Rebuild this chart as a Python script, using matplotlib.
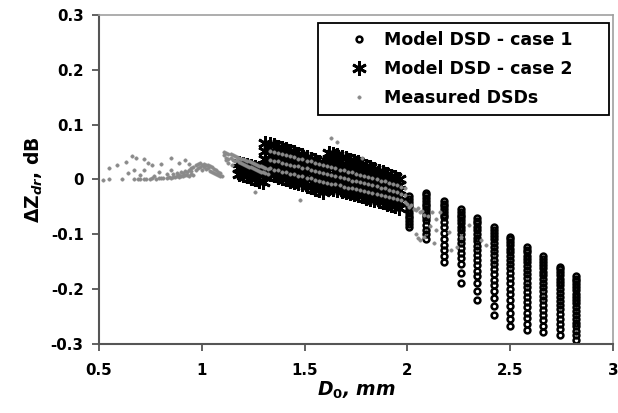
import matplotlib
matplotlib.use("Agg")
import matplotlib.pyplot as plt

# ---- data ----
x_ticks = [0.5, 1.0, 1.5, 2.0, 2.5, 3.0]
x_tick_labels = ["0.5", "1", "1.5", "2", "2.5", "3"]
y_ticks = [0.3, 0.2, 0.1, 0.0, -0.1, -0.2, -0.3]
y_tick_labels = ["0.3", "0.2", "0.1", "0", "-0.1", "-0.2", "-0.3"]

# model DSD - case 1: one column of points per D0 value
case1_d0 = [2.01, 2.09, 2.18, 2.26, 2.34, 2.42, 2.50, 2.58, 2.66, 2.74, 2.82]
case1_dzdr = [
    [-0.031, -0.036, -0.041, -0.046, -0.051, -0.056, -0.061, -0.066, -0.071, -0.076, -0.081, -0.087],
    [-0.024, -0.029, -0.034, -0.039, -0.044, -0.049, -0.054, -0.059, -0.064, -0.069, -0.074, -0.083,
     -0.092, -0.100, -0.108],
    [-0.039, -0.044, -0.049, -0.054, -0.059, -0.064, -0.069, -0.077, -0.087, -0.098, -0.109, -0.120,
     -0.129, -0.140, -0.150],
    [-0.054, -0.059, -0.064, -0.069, -0.074, -0.080, -0.086, -0.093, -0.100, -0.108, -0.116, -0.125,
     -0.134, -0.144, -0.155, -0.171, -0.188],
    [-0.070, -0.075, -0.080, -0.086, -0.092, -0.099, -0.106, -0.113, -0.121, -0.129, -0.138, -0.147,
     -0.156, -0.166, -0.176, -0.188, -0.203, -0.220],
    [-0.087, -0.092, -0.097, -0.103, -0.109, -0.116, -0.123, -0.130, -0.138, -0.146, -0.155, -0.164,
     -0.173, -0.183, -0.193, -0.204, -0.216, -0.231, -0.247],
    [-0.104, -0.109, -0.114, -0.120, -0.126, -0.132, -0.139, -0.146, -0.154, -0.162, -0.171, -0.180,
     -0.189, -0.199, -0.209, -0.220, -0.231, -0.243, -0.255, -0.267],
    [-0.123, -0.128, -0.133, -0.139, -0.145, -0.151, -0.158, -0.165, -0.172, -0.180, -0.188, -0.196,
     -0.205, -0.214, -0.223, -0.233, -0.243, -0.253, -0.264, -0.275],
    [-0.140, -0.145, -0.150, -0.156, -0.162, -0.168, -0.175, -0.182, -0.189, -0.196, -0.204, -0.212,
     -0.220, -0.229, -0.238, -0.247, -0.257, -0.267, -0.278],
    [-0.159, -0.164, -0.169, -0.175, -0.181, -0.187, -0.193, -0.200, -0.207, -0.214, -0.221, -0.229,
     -0.237, -0.245, -0.254, -0.263, -0.273, -0.284],
    [-0.176, -0.181, -0.186, -0.191, -0.196, -0.202, -0.208, -0.214, -0.220, -0.226, -0.233, -0.240,
     -0.247, -0.254, -0.261, -0.268, -0.276, -0.284, -0.292],
]

# model DSD - case 2: columns of points per D0 value
case2_d0 = [1.18, 1.20, 1.22, 1.24, 1.26, 1.28, 1.30,
            1.31, 1.33, 1.35, 1.37, 1.39, 1.41, 1.43, 1.45, 1.47, 1.49, 1.51, 1.53, 1.55, 1.57, 1.59,
            1.62, 1.64, 1.66, 1.68, 1.70, 1.72, 1.74, 1.76, 1.78, 1.80, 1.82, 1.84, 1.86, 1.88,
            1.90, 1.92, 1.94, 1.96]
case2_dzdr = [
    [0.030, 0.020, 0.010], [0.029, 0.018, 0.008], [0.027, 0.016, 0.006], [0.025, 0.014, 0.003],
    [0.023, 0.012, 0.000], [0.021, 0.010, -0.002], [0.019, 0.008, -0.004],
    [0.066, 0.052, 0.038, 0.025, 0.012], [0.065, 0.051, 0.037, 0.024, 0.010],
    [0.062, 0.049, 0.035, 0.021, 0.008], [0.060, 0.046, 0.033, 0.019, 0.005],
    [0.057, 0.044, 0.031, 0.017, 0.003], [0.055, 0.042, 0.028, 0.014, 0.001],
    [0.052, 0.039, 0.026, 0.012, -0.002], [0.050, 0.037, 0.023, 0.010, -0.004],
    [0.047, 0.034, 0.021, 0.008, -0.007], [0.044, 0.032, 0.019, 0.005, -0.009],
    [0.041, 0.029, 0.016, 0.003, -0.012], [0.038, 0.026, 0.013, 0.000, -0.014],
    [0.035, 0.023, 0.010, -0.003, -0.017], [0.031, 0.019, 0.007, -0.006, -0.020],
    [0.027, 0.016, 0.004, -0.009, -0.023],
    [0.048, 0.035, 0.022, 0.009, -0.004, -0.015], [0.046, 0.033, 0.020, 0.007, -0.006, -0.017],
    [0.044, 0.031, 0.018, 0.005, -0.008, -0.019], [0.041, 0.029, 0.016, 0.003, -0.010, -0.021],
    [0.039, 0.026, 0.014, 0.001, -0.012, -0.023], [0.036, 0.024, 0.012, -0.001, -0.013, -0.025],
    [0.034, 0.022, 0.009, -0.003, -0.015, -0.027], [0.031, 0.019, 0.007, -0.005, -0.017, -0.029],
    [0.028, 0.016, 0.005, -0.007, -0.019, -0.031], [0.025, 0.014, 0.002, -0.009, -0.021, -0.033],
    [0.022, 0.011, 0.000, -0.012, -0.023, -0.035], [0.019, 0.008, -0.003, -0.014, -0.025, -0.037],
    [0.016, 0.005, -0.005, -0.016, -0.028, -0.039], [0.013, 0.002, -0.008, -0.019, -0.030, -0.041],
    [0.010, -0.001, -0.011, -0.022, -0.033, -0.044], [0.007, -0.004, -0.014, -0.025, -0.036, -0.046],
    [0.004, -0.007, -0.017, -0.028, -0.039, -0.049], [0.001, -0.010, -0.020, -0.031, -0.042, -0.052],
]

# measured DSDs
meas_d0 = [
    # scattered small-D0 points
    0.52, 0.55, 0.61, 0.55, 0.59, 0.66, 0.63, 0.68, 0.72, 0.67, 0.72, 0.76, 0.80, 0.77, 0.85, 0.89,
    0.85, 0.92, 0.83, 0.79, 0.64, 0.70, 0.74, 0.94,
    # base line
    0.67, 0.69, 0.70, 0.72, 0.73, 0.75, 0.76, 0.78, 0.79, 0.80, 0.81, 0.83, 0.84, 0.85, 0.86, 0.87,
    0.88, 0.89, 0.90, 0.91, 0.92, 0.93, 0.94, 0.95, 0.96,
    0.86, 0.88, 0.89, 0.90, 0.91, 0.92, 0.93, 0.94, 0.95, 0.95,
    # bump near 1 mm
    0.96, 0.97, 0.97, 0.98, 0.98, 0.99, 0.99, 1.00, 1.00, 1.01, 1.01, 1.02, 1.02, 1.03, 1.03, 1.04,
    1.04, 1.05, 1.05, 1.06, 1.06, 1.07, 1.07, 1.08, 1.08, 1.09, 1.09, 1.10,
    # band 1.1 - 1.3 mm
    1.11, 1.11, 1.12, 1.12, 1.13, 1.13, 1.14, 1.14, 1.15, 1.15, 1.16, 1.16, 1.17, 1.17, 1.18, 1.18,
    1.19, 1.19, 1.20, 1.20, 1.21, 1.21, 1.22, 1.22, 1.23, 1.23, 1.24, 1.24, 1.25, 1.25, 1.26, 1.26,
    1.27, 1.27, 1.28, 1.28, 1.29, 1.29, 1.30, 1.30, 1.31, 1.31, 1.32, 1.32, 1.12, 1.145, 1.13,
    # band inside the case 2 cloud (top, mid, bottom rows)
    1.33, 1.35, 1.37, 1.39, 1.41, 1.43, 1.45, 1.47, 1.49, 1.51, 1.53, 1.55, 1.57, 1.59, 1.61, 1.63,
    1.65, 1.67, 1.69, 1.71, 1.73, 1.75, 1.77, 1.79, 1.81, 1.83, 1.85, 1.87, 1.89, 1.91, 1.93, 1.95,
    1.97, 1.99,
    1.33, 1.35, 1.37, 1.39, 1.41, 1.43, 1.45, 1.47, 1.49, 1.51, 1.53, 1.55, 1.57, 1.59, 1.61, 1.63,
    1.65, 1.67, 1.69, 1.71, 1.73, 1.75, 1.77, 1.79, 1.81, 1.83, 1.85, 1.87, 1.89, 1.91, 1.93, 1.95,
    1.97, 1.99,
    1.33, 1.35, 1.37, 1.39, 1.41, 1.43, 1.45, 1.47, 1.49, 1.51, 1.53, 1.55, 1.57, 1.59, 1.61, 1.63,
    1.65, 1.67, 1.69, 1.71, 1.73, 1.75, 1.77, 1.79, 1.81, 1.83, 1.85, 1.87, 1.89, 1.91, 1.93, 1.95,
    1.97, 1.99,
    # stragglers
    1.63, 1.66, 1.78, 1.26, 1.48,
    # tail beyond 2 mm
    2.00, 2.01, 2.02, 2.03, 2.04, 2.05, 2.06, 2.07, 2.08, 2.10, 2.12, 2.14, 2.16, 2.04, 2.05, 2.06,
    2.08, 2.13, 2.14, 2.21, 2.24, 2.30, 2.36, 2.38, 2.20, 2.11, 2.26,
]
meas_dzdr = [
    -0.001, 0.000, 0.000, 0.020, 0.026, 0.043, 0.032, 0.039, 0.037, 0.017, 0.017, 0.026, 0.028, 0.006,
    0.039, 0.030, 0.017, 0.036, 0.010, 0.013, 0.012, 0.008, 0.030, 0.028,
    0.000, 0.000, 0.001, 0.000, 0.001, 0.001, 0.002, 0.001, 0.002, 0.003, 0.002, 0.003, 0.004, 0.003,
    0.005, 0.004, 0.006, 0.005, 0.007, 0.006, 0.008, 0.009, 0.007, 0.010, 0.009,
    0.010, 0.012, 0.008, 0.014, 0.011, 0.016, 0.013, 0.018, 0.015, 0.020,
    0.022, 0.026, 0.017, 0.028, 0.020, 0.030, 0.023, 0.027, 0.018, 0.029, 0.022, 0.026, 0.019, 0.027,
    0.021, 0.024, 0.016, 0.022, 0.014, 0.019, 0.012, 0.017, 0.010, 0.014, 0.008, 0.011, 0.006, 0.006,
    0.050, 0.044, 0.049, 0.040, 0.047, 0.038, 0.046, 0.040, 0.044, 0.036, 0.043, 0.034, 0.041, 0.035,
    0.040, 0.031, 0.038, 0.030, 0.037, 0.028, 0.036, 0.027, 0.034, 0.025, 0.033, 0.023, 0.031, 0.022,
    0.030, 0.020, 0.028, 0.019, 0.027, 0.017, 0.025, 0.016, 0.024, 0.014, 0.022, 0.013, 0.020, 0.012,
    0.019, 0.010, 0.036, 0.026, 0.030,
    0.052, 0.050, 0.049, 0.046, 0.045, 0.042, 0.041, 0.038, 0.037, 0.034, 0.033, 0.030, 0.029, 0.026,
    0.025, 0.022, 0.021, 0.018, 0.017, 0.014, 0.013, 0.010, 0.009, 0.006, 0.005, 0.002, 0.001, -0.002,
    -0.003, -0.006, -0.008, -0.010, -0.013, -0.016,
    0.036, 0.033, 0.034, 0.030, 0.029, 0.027, 0.025, 0.024, 0.021, 0.020, 0.017, 0.016, 0.013, 0.012,
    0.010, 0.008, 0.006, 0.005, 0.002, 0.001, -0.002, -0.003, -0.005, -0.007, -0.009, -0.011, -0.012,
    -0.015, -0.016, -0.019, -0.021, -0.023, -0.026, -0.029,
    0.020, 0.018, 0.017, 0.014, 0.013, 0.010, 0.010, 0.007, 0.006, 0.003, 0.002, -0.001, -0.002, -0.004,
    -0.006, -0.008, -0.009, -0.011, -0.013, -0.015, -0.016, -0.018, -0.020, -0.021, -0.023, -0.025,
    -0.027, -0.028, -0.030, -0.032, -0.034, -0.036, -0.038, -0.041,
    0.076, 0.069, 0.039, -0.022, -0.037,
    -0.045, -0.050, -0.047, -0.053, -0.056, -0.052, -0.060, -0.058, -0.064, -0.066, -0.059, -0.072,
    -0.059, -0.100, -0.106, -0.110, -0.104, -0.116, -0.092, -0.129, -0.123, -0.083, -0.110, -0.120,
    -0.095, -0.085, -0.105,
]

plt.rcParams["font.family"] = "DejaVu Sans"
plt.rcParams["font.weight"] = "bold"
plt.rcParams["mathtext.fontset"] = "custom"
plt.rcParams["mathtext.rm"] = "DejaVu Sans:bold"
plt.rcParams["mathtext.it"] = "DejaVu Sans:italic:bold"
plt.rcParams["mathtext.bf"] = "DejaVu Sans:bold"

fig = plt.figure(figsize=(6.18, 4.13), dpi=100)
ax = fig.add_axes([0.160, 0.167, 0.832, 0.797])

# flatten the column lists into point lists
c1_x = [d for d, ys in zip(case1_d0, case1_dzdr) for _ in ys]
c1_y = [y for ys in case1_dzdr for y in ys]
c2_x = [d for d, ys in zip(case2_d0, case2_dzdr) for _ in ys]
c2_y = [y for ys in case2_dzdr for y in ys]

ax.plot(c1_x, c1_y, linestyle="none", marker="o", ms=4.2, mfc="none", mec="black",
        mew=1.8, label="Model DSD - case 1", zorder=2)
ax.plot(c2_x, c2_y, linestyle="none", marker=(6, 2, 0), ms=10.5, mec="black",
        mew=2.0, label="Model DSD - case 2", zorder=3)
ax.plot(meas_d0, meas_dzdr, linestyle="none", marker="o", ms=2.5, mfc="#8a8a8a",
        mec="#8a8a8a", mew=0.3, label="Measured DSDs", zorder=4)

ax.set_xlim(0.5, 3.0)
ax.set_ylim(-0.3, 0.3)
ax.set_xticks(x_ticks)
ax.set_xticklabels(x_tick_labels)
ax.set_yticks(y_ticks)
ax.set_yticklabels(y_tick_labels)
ax.tick_params(axis="both", direction="out", length=5, width=1.3, color="#555555",
               labelsize=10.8)
ax.tick_params(axis="x", pad=9)
ax.tick_params(axis="y", pad=6)

for side in ["left", "bottom"]:
    ax.spines[side].set_color("#555555")
    ax.spines[side].set_linewidth(1.5)
for side in ["top", "right"]:
    ax.spines[side].set_color("#a0a0a0")
    ax.spines[side].set_linewidth(1.2)

ax.set_xlabel(r"$D_0$, mm", fontsize=13.5, fontstyle="italic", fontweight="bold", labelpad=1)
ax.set_ylabel(r"$\Delta$Z$_{dr}$, dB", fontsize=13.5, fontweight="bold", labelpad=4)

leg = ax.legend(loc="upper left", bbox_to_anchor=(0.426, 0.976, 0.566, 0.0), mode="expand",
                borderaxespad=0.0, fontsize=12.5, handlelength=3.8, handletextpad=-0.45,
                labelspacing=0.65, borderpad=0.45, fancybox=False, framealpha=1.0,
                edgecolor="black")
leg.get_frame().set_linewidth(1.3)

plt.savefig("out.png", dpi=100)
